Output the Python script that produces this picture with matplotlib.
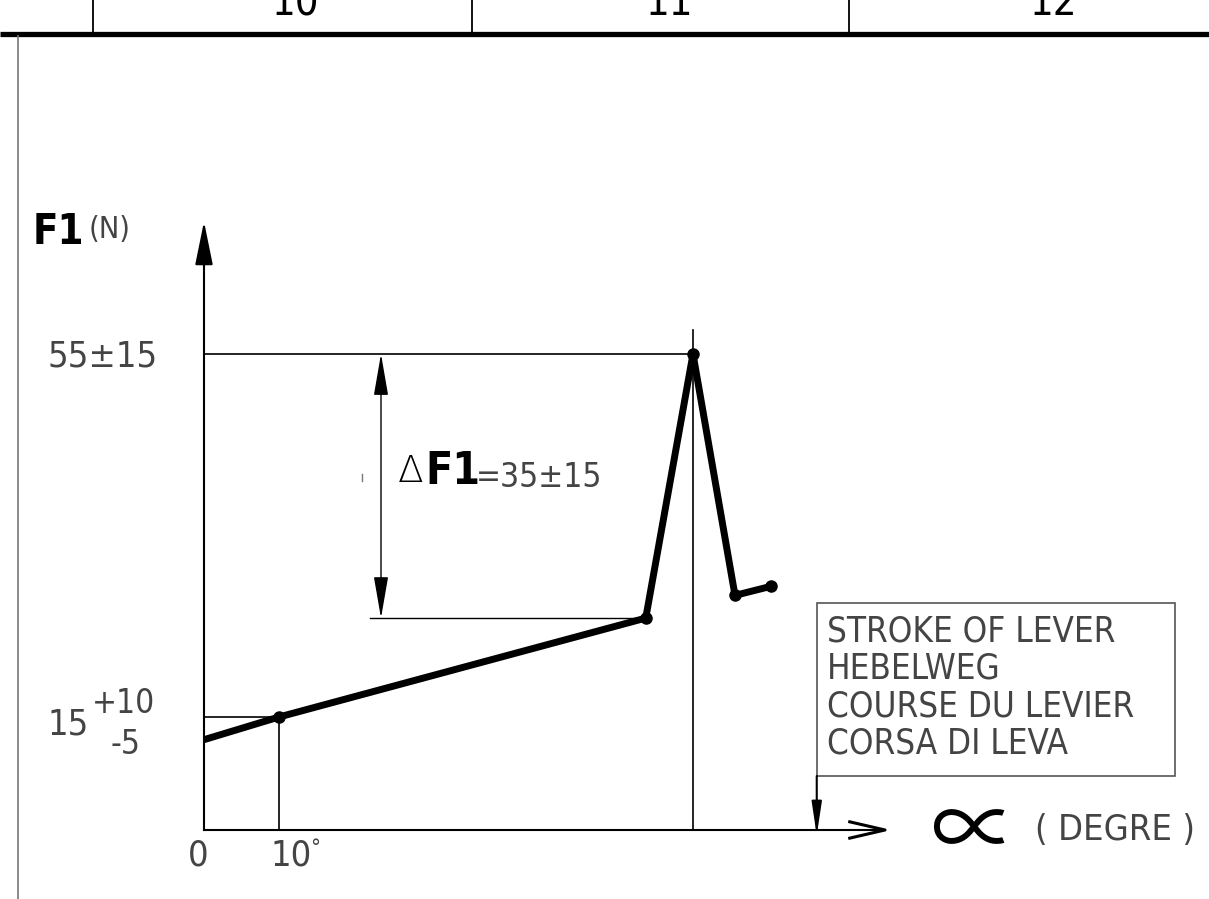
import matplotlib.pyplot as plt
from matplotlib.patches import Rectangle

# Force curve F1 over lever angle (schematic, not to scale)
alpha_deg = [0, 10, 58.9, 65.2, 70.8, 75.6]
force_n = [12.5, 15, 25.9, 55, 28.4, 29.4]
marked = [1, 2, 3, 4, 5]          # points drawn with a dot

peak_label = "55\u00b115"
low_label = "15"
low_tol = ("+10", "-5")
delta_label = "=35\u00b115"
stroke_lines = ["STROKE OF LEVER", "HEBELWEG", "COURSE DU LEVIER", "CORSA DI LEVA"]
sheet_cols = ["10", "11", "12"]

axis_base = 2.55      # level of the angle axis
axis_top = 69.6
axis_end = 90.8

thin = dict(family="DejaVu Sans", fontstretch="condensed", color="#444444")
bold = dict(family="DejaVu Sans", fontstretch="condensed", fontweight="bold",
            color="black")

fig = plt.figure(figsize=(12.09, 8.99), dpi=100)

# sheet frame in pixel units
frame = fig.add_axes([0, 0, 1, 1])
frame.set_xlim(0, 1209)
frame.set_ylim(899, 0)
frame.axis("off")
frame.plot([0, 1209], [33.5, 33.5], color="black", lw=3.8, solid_capstyle="butt")
for xc in [93, 472, 849]:
    frame.plot([xc, xc], [0, 33], color="black", lw=1.3)
for xc, lab in zip([296, 670, 1054], sheet_cols):
    frame.text(xc, 15, lab, ha="center", va="baseline", fontsize=30,
               family="DejaVu Sans", fontstretch="condensed", color="black")
frame.plot([18, 18], [36, 899], color="#777777", lw=1.2)

# diagram in degree / newton units
ax = fig.add_axes([0, 0, 1, 1])
ax.set_xlim(-27.2, 134.0)
ax.set_ylim(-5.055, 94.008)
ax.axis("off")

x0, y0 = alpha_deg[1], force_n[1]
xp, yp = alpha_deg[3], force_n[3]
xl, yl = alpha_deg[2], force_n[2]

# axes
ax.plot([0, 0], [axis_base, axis_top - 4], color="black", lw=1.5)
ax.annotate("", xy=(0, axis_top), xytext=(0, axis_top - 5),
            arrowprops=dict(arrowstyle="-|>,head_length=2.7,head_width=0.55",
                            color="black", lw=1.5, shrinkA=0, shrinkB=0))
ax.plot([0, axis_end], [axis_base, axis_base], color="black", lw=1.5)
ax.plot([axis_end - 4.7, axis_end, axis_end - 4.7],
        [axis_base + 0.9, axis_base, axis_base - 0.9], color="black", lw=2.2)

# reference lines
ax.plot([0, xp], [yp, yp], color="black", lw=1.2)
ax.plot([xp, xp], [axis_base, yp + 2.6], color="black", lw=1.2)
ax.plot([0, x0], [y0, y0], color="black", lw=1.2)
ax.plot([x0, x0], [axis_base, y0], color="black", lw=1.2)
ax.plot([22.1, xl], [yl, yl], color="black", lw=1.0)

# dimension for delta F1
ax.annotate("", xy=(23.6, yp), xytext=(23.6, yl),
            arrowprops=dict(arrowstyle="<|-|>,head_length=2.6,head_width=0.45",
                            color="black", lw=1.0, shrinkA=0, shrinkB=0))
ax.plot([21.1, 21.1], [41.0, 41.8], color="#777777", lw=1.0)

# curve
ax.plot(alpha_deg, force_n, color="black", lw=5, solid_joinstyle="round",
        solid_capstyle="butt")
ax.plot([alpha_deg[i] for i in marked], [force_n[i] for i in marked], "o",
        color="black", ms=8)

# labels
ax.text(-22.8, 68.4, "F1", fontsize=30, ha="left", va="center", **bold)
ax.text(-15.4, 68.7, "(N)", fontsize=22, ha="left", va="center", **thin)
ax.text(-6.1, 54.7, peak_label, fontsize=26, ha="right", va="center", **thin)
ax.text(-15.4, 14.2, low_label, fontsize=26, ha="right", va="center", **thin)
ax.text(-14.9, 16.5, low_tol[0], fontsize=24, ha="left", va="center", **thin)
ax.text(-12.4, 12.0, low_tol[1], fontsize=24, ha="left", va="center", **thin)
ax.text(-0.8, -0.3, "0", fontsize=26, ha="center", va="center", **thin)
ax.text(8.8, -0.3, "10", fontsize=26, ha="left", va="center", **thin)
ax.text(14.2, 0.6, "\u00b0", fontsize=16, ha="left", va="center", **thin)

ax.text(25.9, 42.0, "\u0394", fontsize=27, ha="left", va="center",
        family="DejaVu Sans", fontweight=200, color="black")
ax.text(29.5, 42.0, "F1", fontsize=32, ha="left", va="center", **bold)
ax.text(36.3, 41.4, delta_label, fontsize=24, ha="left", va="center", **thin)

# stroke box
box_x0, box_x1 = 81.7, 129.5
box_y0, box_y1 = 8.5, 27.6
ax.add_patch(Rectangle((box_x0, box_y0), box_x1 - box_x0, box_y1 - box_y0,
                       fill=False, edgecolor="#555555", lw=1.2))
for i, line in enumerate(stroke_lines):
    ax.text(83.0, 24.4 - i * 4.1, line, fontsize=25, ha="left", va="center",
            **thin)
ax.annotate("", xy=(box_x0, axis_base - 0.6), xytext=(box_x0, box_y0),
            arrowprops=dict(arrowstyle="-|>,head_length=2.0,head_width=0.3",
                            color="black", lw=1.5, shrinkA=0, shrinkB=0))

ax.text(102.6, axis_base - 0.5, "\u221d", fontsize=62, ha="center", va="center",
        family=["Noto Sans CJK JP", "DejaVu Sans"], color="black")
ax.text(110.8, axis_base, "( DEGRE )", fontsize=26, ha="left", va="center",
        **thin)

fig.savefig("out.png", dpi=100)
